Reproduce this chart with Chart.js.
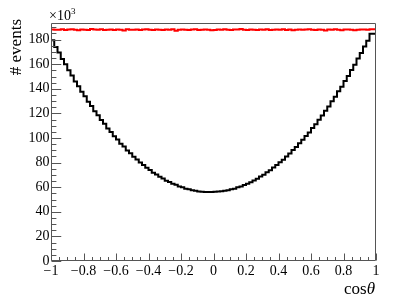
<!DOCTYPE html>
<html>
<head>
<meta charset="utf-8">
<script src="https://cdn.jsdelivr.net/npm/chart.js@4/dist/chart.umd.min.js"></script>
<style>
html,body{margin:0;padding:0;background:#fff;}
canvas{display:block;}
</style>
</head>
<body>
<canvas id="c" width="407" height="299"></canvas>
<script>
// Histogram binning
const xMin = -1, xMax = 1, nBins = 100;
const yMax = 193.5; // in units of 10^3

// Black histogram (events, x10^3), 100 bins from -1 to 1
const blackCounts = [
  184.6, 179.5, 174.0, 169.5, 164.3, 159.9, 155.0, 150.8, 146.0, 142.1,
  137.6, 133.9, 129.5, 126.0, 121.8, 118.6, 114.6, 111.5, 107.8, 104.9,
  101.4, 98.8, 95.4, 93.0, 89.9, 87.6, 84.7, 82.6, 80.0, 78.1,
  75.8, 74.0, 71.8, 70.4, 68.5, 67.1, 65.3, 64.3, 62.8, 61.9,
  60.6, 59.9, 58.8, 58.3, 57.5, 57.2, 56.5, 56.4, 56.0, 56.1,
  56.2, 56.3, 56.5, 56.7, 57.2, 57.5, 58.3, 58.8, 59.9, 60.6,
  61.8, 62.8, 64.1, 65.5, 66.9, 68.7, 70.2, 72.1, 73.8, 76.0,
  78.0, 80.3, 82.3, 85.0, 87.4, 90.2, 92.7, 95.7, 98.5, 101.7,
  104.5, 108.1, 111.1, 114.9, 118.2, 122.1, 125.6, 129.8, 133.5, 138.0,
  141.7, 146.3, 150.4, 155.3, 159.6, 164.7, 169.1, 174.4, 179.1, 184.8
];

// Red histogram (events, x10^3), 100 bins from -1 to 1
const redCounts = [
  187.8, 188.3, 188.1, 188.0, 188.4, 187.9, 188.2, 188.5, 188.0, 187.7,
  188.3, 188.1, 187.9, 188.6, 188.2, 188.0, 188.4, 187.8, 188.1, 188.3,
  187.9, 188.2, 188.0, 187.4, 188.4, 188.1, 188.0, 188.3, 187.8, 188.2,
  188.5, 188.0, 187.9, 188.3, 188.1, 187.9, 188.2, 188.0, 188.4, 187.2,
  188.1, 188.3, 188.0, 187.9, 188.2, 188.5, 187.8, 188.1, 188.3, 188.0,
  187.6, 187.9, 188.2, 188.0, 188.4, 188.1, 187.8, 188.3, 188.2, 188.6,
  188.0, 187.9, 188.3, 188.1, 187.8, 188.2, 188.0, 188.4, 187.9, 188.1,
  188.3, 188.0, 188.5, 187.9, 188.2, 187.7, 188.1, 188.3, 188.0, 188.2,
  188.4, 188.0, 187.9, 188.3, 188.1, 187.5, 188.2, 188.0, 188.4, 188.1,
  187.7, 188.2, 188.3, 188.0, 187.6, 188.1, 188.3, 188.2, 188.0, 188.4
];

// Axis tick labels
const xTickValues = [-1, -0.8, -0.6, -0.4, -0.2, 0, 0.2, 0.4, 0.6, 0.8, 1];
const xTickLabels = ["\u22121", "\u22120.8", "\u22120.6", "\u22120.4", "\u22120.2", "0", "0.2", "0.4", "0.6", "0.8", "1"];
const yTickValues = [0, 20, 40, 60, 80, 100, 120, 140, 160, 180];
const yTickLabels = ["0", "20", "40", "60", "80", "100", "120", "140", "160", "180"];

function stepPoints(counts) {
  const w = (xMax - xMin) / counts.length;
  const pts = counts.map((v, i) => ({ x: xMin + i * w, y: v }));
  pts.push({ x: xMax, y: counts[counts.length - 1] });
  return pts;
}

const FONT = '"Liberation Serif", "DejaVu Serif", serif';
const frameColor = '#555';

const rootStyle = {
  id: 'rootStyle',
  afterDraw(chart) {
    const ctx = chart.ctx;
    const xs = chart.scales.x, ys = chart.scales.y;
    const a = chart.chartArea;
    const L = Math.round(a.left) + 0.5, R = Math.round(a.right) - 0.5;
    const T = Math.round(a.top) + 0.5, B = Math.round(a.bottom) - 0.5;
    ctx.save();
    ctx.strokeStyle = frameColor;
    ctx.lineWidth = 1;
    ctx.beginPath();
    ctx.rect(L, T, R - L, B - T);
    ctx.stroke();
    // x ticks (inside, pointing up)
    ctx.beginPath();
    for (let k = 0; k <= 40; k++) {
      const v = xMin + k * 0.05;
      const px = Math.round(xs.getPixelForValue(v)) + 0.5;
      const len = (k % 4 === 0) ? 7 : 3.5;
      ctx.moveTo(px, B);
      ctx.lineTo(px, B - len);
    }
    // y ticks (inside, pointing right)
    for (let v = 0; v <= yMax; v += 5) {
      const py = Math.round(ys.getPixelForValue(v)) + 0.5;
      const len = (v % 20 === 0) ? 9.75 : 4.9;
      ctx.moveTo(L, py);
      ctx.lineTo(L + len, py);
    }
    ctx.stroke();

    ctx.fillStyle = '#000';
    ctx.font = '14px ' + FONT;
    ctx.textAlign = 'center';
    ctx.textBaseline = 'middle';
    xTickValues.forEach((v, i) => {
      ctx.fillText(xTickLabels[i], xs.getPixelForValue(v), B + 11);
    });
    ctx.textAlign = 'right';
    yTickValues.forEach((v, i) => {
      ctx.fillText(yTickLabels[i], L - 2, ys.getPixelForValue(v));
    });

    // x10^3 multiplier
    ctx.textAlign = 'left';
    ctx.textBaseline = 'alphabetic';
    ctx.font = '14px ' + FONT;
    ctx.fillText('\u00d710', 49, 20);
    const w10 = ctx.measureText('\u00d710').width;
    ctx.font = '9px ' + FONT;
    ctx.fillText('3', 49 + w10, 14);

    // x axis title
    ctx.font = 'italic 17px ' + FONT;
    const wTheta = ctx.measureText('\u03b8').width;
    ctx.textAlign = 'right';
    ctx.fillText('\u03b8', 375, 294);
    ctx.font = '17px ' + FONT;
    ctx.fillText('cos', 375 - wTheta, 294);

    // y axis title
    ctx.save();
    ctx.translate(17, 19);
    ctx.rotate(-Math.PI / 2);
    ctx.font = '17px ' + FONT;
    ctx.textAlign = 'right';
    ctx.textBaseline = 'middle';
    ctx.fillText('# events', 0, 0);
    ctx.restore();
    ctx.restore();
  }
};

new Chart(document.getElementById('c'), {
  type: 'line',
  data: {
    datasets: [
      { data: stepPoints(redCounts), borderColor: '#ff0000', borderWidth: 2, stepped: 'after', pointRadius: 0, fill: false },
      { data: stepPoints(blackCounts), borderColor: '#000000', borderWidth: 2, stepped: 'after', pointRadius: 0, fill: false }
    ]
  },
  options: {
    responsive: false,
    animation: false,
    devicePixelRatio: 1,
    layout: { padding: { left: 51, right: 31, top: 23, bottom: 38 } },
    plugins: { legend: { display: false }, tooltip: { enabled: false } },
    scales: {
      x: { type: 'linear', min: xMin, max: xMax, display: false },
      y: { type: 'linear', min: 0, max: yMax, display: false }
    }
  },
  plugins: [rootStyle]
});
</script>
</body>
</html>
